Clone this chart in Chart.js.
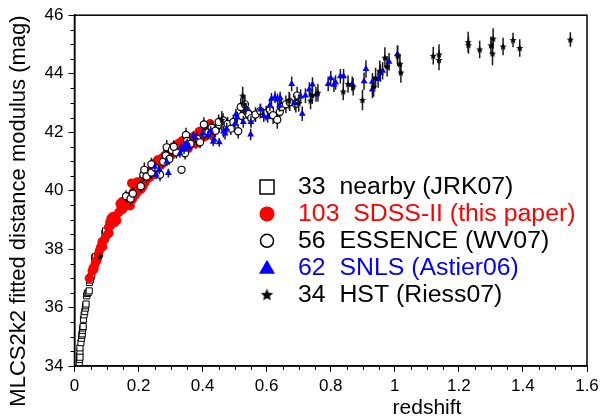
<!DOCTYPE html>
<html>
<head>
<meta charset="utf-8">
<script src="https://cdn.jsdelivr.net/npm/chart.js@4.4.0/dist/chart.umd.min.js"></script>
<style>
body { margin: 0; background: #fff; }
</style>
</head>
<body>
<canvas id="myChart" width="613" height="419"></canvas>
<script>
var FONT = "'Liberation Sans', Arial, sans-serif";

// legend texts and colours, one per series
var seriesLabels = ["33  nearby (JRK07)", "103  SDSS-II (this paper)", "56  ESSENCE (WV07)", "62  SNLS (Astier06)", "34  HST (Riess07)"];
var seriesColors = ["#000000", "#ff0000", "#000000", "#0000ff", "#000000"];

var xTitle = "redshift";
var yTitle = "MLCS2k2 fitted distance modulus (mag)";

// [redshift, distance modulus, error]
var nearby = [
    [0.015,34.12,0.06],[0.016,34.22,0.06],[0.016,34.35,0.06],[0.017,34.48,0.06],[0.017,34.62,0.06],
    [0.020,34.80,0.06],[0.022,34.95,0.06],[0.023,35.05,0.06],[0.024,35.10,0.06],[0.025,35.22,0.06],
    [0.026,35.30,0.06],[0.028,35.60,0.06],[0.030,35.75,0.06],[0.032,35.86,0.06],[0.034,35.98,0.06],
    [0.035,36.06,0.06],[0.036,36.12,0.06],[0.038,36.40,0.06],[0.040,36.48,0.06],[0.043,36.52,0.06],
    [0.046,36.57,0.06],[0.047,36.86,0.06],[0.049,36.94,0.06],[0.052,37.06,0.06],[0.054,37.12,0.06],
    [0.063,37.70,0.06],[0.065,37.74,0.06],[0.073,37.78,0.06],[0.077,37.82,0.06],[0.095,38.55,0.06],
    [0.097,38.62,0.06],[0.017,34.30,0.06],[0.027,35.35,0.06]
];

var sdss = [
    [0.046,37.00,0.1],[0.055,37.25,0.1],[0.058,37.35,0.1],[0.061,37.32,0.1],[0.064,37.48,0.1],
    [0.067,37.58,0.1],[0.070,37.62,0.1],[0.074,37.80,0.1],[0.077,37.92,0.1],[0.080,38.02,0.1],
    [0.083,38.10,0.1],[0.086,38.25,0.1],[0.088,38.08,0.1],[0.092,38.30,0.1],[0.095,38.35,0.1],
    [0.103,38.50,0.1],[0.106,38.75,0.1],[0.108,38.55,0.1],[0.110,38.92,0.1],[0.112,38.80,0.1],
    [0.114,39.05,0.1],[0.116,38.88,0.1],[0.118,39.10,0.1],[0.120,38.95,0.1],[0.122,39.12,0.1],
    [0.125,38.90,0.1],[0.128,39.05,0.1],[0.132,38.98,0.1],[0.138,39.25,0.1],
    [0.142,39.55,0.12],[0.145,39.40,0.12],[0.148,39.62,0.12],[0.150,39.35,0.12],[0.153,39.58,0.12],
    [0.156,39.45,0.12],[0.159,39.68,0.12],[0.162,39.50,0.12],[0.165,39.75,0.12],[0.168,39.55,0.12],
    [0.171,39.80,0.12],[0.174,39.48,0.12],[0.178,40.26,0.12],[0.181,39.70,0.12],
    [0.184,39.95,0.12],[0.187,40.15,0.12],[0.190,39.85,0.12],[0.193,40.20,0.12],[0.196,39.95,0.12],
    [0.196,40.30,0.12],[0.199,40.18,0.12],[0.202,40.02,0.12],[0.205,40.25,0.12],[0.208,40.05,0.12],
    [0.211,40.35,0.12],[0.214,40.15,0.12],[0.217,40.45,0.12],[0.220,40.28,0.12],[0.224,40.55,0.12],
    [0.227,40.40,0.14],[0.231,40.65,0.14],[0.234,40.45,0.14],[0.238,40.70,0.14],[0.241,40.52,0.14],
    [0.245,40.85,0.14],[0.248,40.62,0.14],[0.252,40.95,0.14],[0.255,40.72,0.14],[0.259,41.05,0.14],
    [0.262,40.82,0.14],[0.266,41.02,0.14],[0.270,40.88,0.14],[0.274,41.12,0.14],
    [0.278,40.95,0.15],[0.282,41.20,0.15],[0.286,41.02,0.15],[0.290,41.35,0.15],[0.294,41.15,0.15],
    [0.298,41.40,0.15],[0.302,41.22,0.15],[0.306,41.48,0.15],[0.310,41.30,0.15],[0.315,41.55,0.15],
    [0.320,41.38,0.15],[0.325,41.62,0.15],[0.330,41.45,0.15],[0.335,41.70,0.15],
    [0.340,41.50,0.16],[0.345,41.75,0.16],[0.350,41.55,0.16],[0.355,41.44,0.16],[0.360,41.80,0.16],
    [0.366,41.62,0.16],[0.372,41.85,0.16],[0.378,41.60,0.16],[0.384,41.92,0.16],[0.389,42.02,0.16],
    [0.393,41.75,0.16],[0.398,41.95,0.16],[0.403,42.10,0.16],[0.407,41.85,0.16],[0.412,42.15,0.16],
    [0.417,41.95,0.16],[0.423,42.29,0.16],[0.426,41.90,0.16]
];

var essence = [
    [0.161,39.81,0.2],[0.175,39.72,0.2],[0.182,39.90,0.22],[0.207,40.15,0.2],[0.215,40.54,0.22],
    [0.218,40.71,0.25],[0.225,40.48,0.2],[0.240,40.62,0.22],[0.252,40.78,0.2],[0.267,40.54,0.22],
    [0.277,40.99,0.22],[0.285,41.20,0.2],[0.288,41.48,0.25],[0.296,41.08,0.2],[0.304,41.39,0.22],
    [0.318,41.30,0.2],[0.334,40.71,0],[0.345,41.28,0.22],[0.348,41.90,0.25],[0.351,41.70,0.22],
    [0.362,41.60,0.2],[0.383,41.77,0.25],[0.392,41.65,0.2],[0.404,42.26,0.25],[0.406,41.95,0.22],
    [0.418,42.00,0.22],[0.428,42.15,0.25],[0.440,42.05,0.22],[0.452,42.25,0.25],[0.464,42.40,0.25],
    [0.468,42.15,0.22],[0.478,42.28,0.25],[0.488,42.12,0.22],[0.496,42.35,0.25],[0.511,42.03,0.25],
    [0.519,42.86,0.3],[0.523,42.55,0.25],[0.532,42.95,0.3],[0.538,42.70,0.25],[0.543,42.62,0.25],
    [0.552,42.48,0.25],[0.565,42.60,0.25],[0.580,42.72,0.25],[0.598,42.65,0.25],[0.610,42.75,0.25],
    [0.620,42.58,0.3],[0.633,42.42,0.3],[0.641,42.70,0.3],[0.646,42.86,0.3],[0.660,42.95,0.3],
    [0.672,43.02,0.3],[0.691,42.97,0.3],[0.695,43.25,0.3],[0.310,41.50,0.22],[0.240,40.90,0.22],
    [0.450,42.35,0.25]
];

var snls = [
    [0.251,40.82,0.15],[0.255,40.54,0.15],[0.265,40.71,0.15],[0.288,40.99,0.15],[0.293,40.60,0.15],
    [0.329,41.27,0.15],[0.334,41.50,0.15],[0.342,41.40,0.15],[0.345,41.56,0.15],[0.352,41.62,0.15],
    [0.358,41.48,0.15],[0.371,41.88,0.15],[0.378,41.80,0.15],[0.400,41.95,0.15],[0.417,41.90,0.15],
    [0.425,42.05,0.15],[0.433,41.67,0.15],[0.436,41.75,0.15],[0.452,41.65,0.15],[0.465,42.02,0.2],
    [0.470,41.95,0.2],[0.475,42.12,0.2],[0.501,42.29,0.2],[0.504,42.60,0.2],[0.508,42.50,0.2],
    [0.527,42.35,0.2],[0.535,42.80,0.2],[0.550,41.92,0.2],[0.551,42.35,0.2],[0.581,42.77,0.2],
    [0.591,42.55,0.2],[0.603,42.52,0.2],[0.610,42.92,0.2],[0.615,43.14,0.2],[0.626,43.20,0.2],
    [0.634,43.12,0.2],[0.642,43.18,0.2],[0.640,42.90,0.2],[0.678,43.65,0.25],[0.688,43.00,0.25],
    [0.706,43.22,0.25],[0.711,42.63,0.25],[0.721,43.25,0.25],[0.733,43.46,0.25],[0.743,43.63,0.25],
    [0.754,43.29,0.25],[0.792,43.65,0.25],[0.800,43.84,0.25],[0.810,43.62,0.25],[0.815,43.70,0.25],
    [0.830,43.91,0.25],[0.840,43.91,0.25],[0.867,43.65,0.25],[0.904,43.74,0.3],[0.910,44.16,0.3],
    [0.930,43.46,0.3],[0.930,43.72,0.3],[0.948,43.82,0.3],[0.955,44.02,0.3],[0.962,44.10,0.3],
    [0.982,44.41,0.3],[1.008,44.66,0.3]
];

var hst = [
    [0.460,42.42,0.3],[0.525,43.25,0.3],[0.530,42.95,0.3],[0.670,43.08,0.3],[0.700,43.00,0.3],
    [0.737,43.08,0.3],[0.742,43.27,0.3],[0.760,43.35,0.3],[0.839,43.39,0.3],[0.854,43.65,0.3],
    [0.870,43.55,0.3],[0.899,43.10,0.35],[0.934,43.56,0.35],[0.940,43.85,0.35],[0.953,44.10,0.35],
    [0.969,44.55,0.35],[0.976,44.25,0.35],[1.009,44.61,0.35],[1.016,44.33,0.35],[1.019,44.04,0.35],
    [1.120,44.61,0.3],[1.138,44.66,0.35],[1.138,44.47,0.35],[1.229,45.08,0.35],[1.230,44.98,0.3],
    [1.265,44.83,0.3],[1.300,44.97,0.3],[1.307,45.20,0.35],[1.305,44.69,0.4],[1.338,44.93,0.3],
    [1.369,45.15,0.25],[1.390,44.88,0.3],[1.548,45.17,0.25],[0.080,37.75,0.1]
];

function toPoints(arr) {
    return arr.map(function (p) { return { x: p[0], y: p[1], e: p[2] }; });
}

function makeStar(r, color) {
    var c = document.createElement("canvas");
    var s = Math.ceil(r * 2 + 2);
    c.width = s;
    c.height = s;
    var g = c.getContext("2d");
    g.fillStyle = color;
    g.beginPath();
    for (var i = 0; i < 10; i++) {
        var rad = i % 2 === 0 ? r : r * 0.45;
        var a = -Math.PI / 2 + i * Math.PI / 5;
        var px = s / 2 + rad * Math.cos(a);
        var py = s / 2 + rad * Math.sin(a) + r * 0.08;
        if (i === 0) g.moveTo(px, py); else g.lineTo(px, py);
    }
    g.closePath();
    g.fill();
    return c;
}

var starSmall = makeStar(3.8, "#000");
var starBig = makeStar(6.5, "#000");

// error bars drawn just before each dataset's markers
var errorBars = {
    id: "errorBars",
    beforeDatasetDraw: function (chart, args) {
        var ds = chart.data.datasets[args.index];
        var ctx = chart.ctx;
        var x = chart.scales.x, y = chart.scales.y, a = chart.chartArea;
        ctx.save();
        ctx.beginPath();
        ctx.rect(a.left, a.top, a.right - a.left, a.bottom - a.top);
        ctx.clip();
        ctx.strokeStyle = "#1a1a1a";
        ctx.lineWidth = 1.5;
        ds.data.forEach(function (p) {
            if (!p.e) return;
            var px = x.getPixelForValue(p.x);
            ctx.beginPath();
            ctx.moveTo(px, y.getPixelForValue(p.y - p.e));
            ctx.lineTo(px, y.getPixelForValue(p.y + p.e));
            ctx.stroke();
        });
        ctx.restore();
    }
};

// frame, minor ticks, axis titles and the legend box
var decorations = {
    id: "decorations",
    afterDraw: function (chart) {
        var ctx = chart.ctx;
        var a = chart.chartArea;
        var x = chart.scales.x, y = chart.scales.y;
        ctx.save();
        ctx.strokeStyle = "#000";
        ctx.lineWidth = 1.5;
        ctx.strokeRect(a.left, a.top, a.right - a.left, a.bottom - a.top);

        ctx.lineWidth = 1;
        for (var k = 69; k < 92; k++) {
            if (k % 4 === 0) continue;
            var py = Math.round(y.getPixelForValue(k / 2)) + 0.5;
            ctx.beginPath();
            ctx.moveTo(a.left - 4, py);
            ctx.lineTo(a.left, py);
            ctx.stroke();
        }
        for (var m = 1; m < 32; m++) {
            if (m % 4 === 0) continue;
            var px = Math.round(x.getPixelForValue(m * 0.05)) + 0.5;
            ctx.beginPath();
            ctx.moveTo(px, a.bottom);
            ctx.lineTo(px, a.bottom + 4);
            ctx.stroke();
        }

        ctx.fillStyle = "#000";
        ctx.font = "21px " + FONT;
        ctx.textAlign = "center";
        ctx.textBaseline = "alphabetic";
        ctx.fillText(xTitle, 427, 414);

        ctx.save();
        ctx.translate(25, 211);
        ctx.rotate(-Math.PI / 2);
        ctx.font = "22px " + FONT;
        ctx.fillText(yTitle, 0, 0);
        ctx.restore();

        // legend
        var lx = 267, ly = 187, step = 26.9;
        ctx.font = "23px " + FONT;
        ctx.textAlign = "left";
        ctx.textBaseline = "middle";
        for (var i = 0; i < seriesLabels.length; i++) {
            var cy = ly + i * step;
            ctx.lineWidth = 1.5;
            ctx.strokeStyle = "#000";
            if (i === 0) {
                ctx.fillStyle = "#fff";
                ctx.fillRect(lx - 7, cy - 7, 14, 14);
                ctx.strokeRect(lx - 7, cy - 7, 14, 14);
            } else if (i === 1) {
                ctx.fillStyle = seriesColors[1];
                ctx.beginPath();
                ctx.arc(lx, cy, 7.5, 0, Math.PI * 2);
                ctx.fill();
            } else if (i === 2) {
                ctx.fillStyle = "#fff";
                ctx.beginPath();
                ctx.arc(lx, cy, 6.5, 0, Math.PI * 2);
                ctx.fill();
                ctx.stroke();
            } else if (i === 3) {
                ctx.fillStyle = seriesColors[3];
                ctx.beginPath();
                ctx.moveTo(lx, cy - 8);
                ctx.lineTo(lx + 8, cy + 6);
                ctx.lineTo(lx - 8, cy + 6);
                ctx.closePath();
                ctx.fill();
            } else {
                ctx.drawImage(starBig, lx - starBig.width / 2, cy - starBig.height / 2);
            }
            ctx.save();
            ctx.translate(298, cy + 1);
            ctx.scale(1.08, 1);
            ctx.fillStyle = seriesColors[i];
            ctx.fillText(seriesLabels[i], 0, 0);
            ctx.restore();
        }
        ctx.restore();
    }
};

var ctx = document.getElementById("myChart");

var chart = new Chart(ctx, {
    type: "scatter",
    data: {
        datasets: [{
            label: seriesLabels[0],
            data: toPoints(nearby),
            pointStyle: "rect",
            pointRadius: 4.3,
            backgroundColor: "#fff",
            borderColor: "#000",
            borderWidth: 1,
            order: 5
        }, {
            label: seriesLabels[1],
            data: toPoints(sdss),
            pointStyle: "circle",
            pointRadius: 4.6,
            backgroundColor: seriesColors[1],
            borderColor: seriesColors[1],
            borderWidth: 0,
            order: 4
        }, {
            label: seriesLabels[2],
            data: toPoints(essence),
            pointStyle: "circle",
            pointRadius: 3.6,
            backgroundColor: "#fff",
            borderColor: "#000",
            borderWidth: 1.2,
            order: 3
        }, {
            label: seriesLabels[3],
            data: toPoints(snls),
            pointStyle: "triangle",
            pointRadius: 4,
            backgroundColor: seriesColors[3],
            borderColor: seriesColors[3],
            borderWidth: 0,
            order: 2
        }, {
            label: seriesLabels[4],
            data: toPoints(hst),
            pointStyle: starSmall,
            pointRadius: 4,
            backgroundColor: "#000",
            borderColor: "#000",
            order: 1
        }]
    },
    options: {
        responsive: false,
        animation: false,
        devicePixelRatio: 1,
        layout: { padding: { top: 12, right: 26, left: 0, bottom: 0 } },
        plugins: {
            legend: { display: false },
            tooltip: { enabled: false }
        },
        scales: {
            x: {
                type: "linear",
                min: 0,
                max: 1.6,
                afterFit: function (scale) { scale.height = 53; },
                ticks: {
                    stepSize: 0.2,
                    autoSkip: false,
                    maxRotation: 0,
                    padding: 4,
                    color: "#000",
                    font: { family: FONT, size: 17 },
                    callback: function (v) { return String(+v.toFixed(2)); }
                },
                grid: { drawOnChartArea: false, drawTicks: true, tickLength: 6, color: "#000", tickWidth: 1 },
                border: { color: "#000", width: 1.5 }
            },
            y: {
                type: "linear",
                min: 34,
                max: 46,
                afterFit: function (scale) { scale.width = 74.5; },
                ticks: {
                    stepSize: 2,
                    padding: 5,
                    color: "#000",
                    font: { family: FONT, size: 17 },
                    callback: function (v) { return String(v); }
                },
                grid: { drawOnChartArea: false, drawTicks: true, tickLength: 6, color: "#000", tickWidth: 1 },
                border: { color: "#000", width: 1.5 }
            }
        }
    },
    plugins: [errorBars, decorations]
});
</script>
</body>
</html>
